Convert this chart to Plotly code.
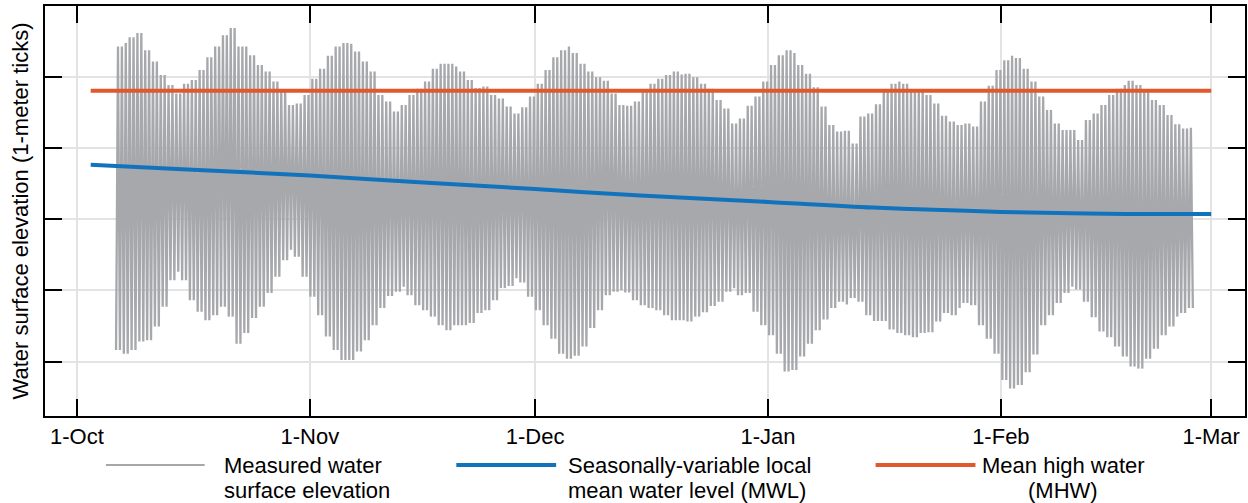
import pandas as pd
import plotly.graph_objects as go

# ---------------- data (metres) ----------------
first_day = "2022-10-06"          # first calendar day of the tidal record
record_start = "2022-10-06 05:00"
record_end = "2023-02-26 14:00"
tide_half_period_hours = 6.21     # high -> low spacing of a semidiurnal tide

# envelope of daily high waters (m), Oct 6 .. Feb 26
high_water = [
    2.42, 2.47, 2.55, 2.61, 2.37, 2.21, 2.02, 1.88, 1.76, 1.90,
    1.95, 2.09, 2.27, 2.42, 2.58, 2.68, 2.42, 2.42, 2.30, 2.16,
    2.07, 1.93, 1.79, 1.60, 1.62, 1.74, 1.97, 2.11, 2.29, 2.42,
    2.47, 2.46, 2.35, 2.21, 2.07, 1.74, 1.65, 1.51, 1.60, 1.74,
    1.83, 1.93, 2.11, 2.18, 2.18, 2.14, 2.07, 1.95, 1.84, 1.86,
    1.74, 1.69, 1.58, 1.48, 1.57, 1.72, 1.90, 2.09, 2.27, 2.37,
    2.42, 2.33, 2.18, 2.07, 1.99, 1.94, 1.76, 1.60, 1.59, 1.65,
    1.79, 1.90, 1.97, 2.02, 2.07, 2.03, 2.04, 1.99, 1.90, 1.83,
    1.67, 1.55, 1.34, 1.41, 1.59, 1.72, 1.93, 2.16, 2.30, 2.37,
    2.33, 2.16, 2.04, 1.85, 1.58, 1.32, 1.23, 1.24, 1.06, 1.44,
    1.48, 1.61, 1.79, 1.90, 1.93, 1.90, 1.82, 1.82, 1.74, 1.62,
    1.45, 1.37, 1.32, 1.34, 1.30, 1.65, 1.87, 2.09, 2.23, 2.29,
    2.26, 2.11, 1.93, 1.72, 1.53, 1.34, 1.25, 1.25, 1.11, 1.39,
    1.48, 1.60, 1.74, 1.83, 1.88, 1.94, 1.88, 1.79, 1.67, 1.60,
    1.46, 1.33, 1.27, 1.28,
]
# envelope of daily low waters (m), Oct 6 .. Feb 26
low_water = [
    -1.84, -1.89, -1.84, -1.72, -1.70, -1.51, -1.23, -0.86, -0.74, -0.86,
    -1.14, -1.30, -1.42, -1.35, -1.23, -1.37, -1.75, -1.60, -1.39, -1.23,
    -1.04, -0.81, -0.58, -0.43, -0.53, -0.81, -1.09, -1.35, -1.65, -1.84,
    -1.98, -1.98, -1.86, -1.70, -1.49, -1.25, -1.08, -1.02, -0.95, -1.07,
    -1.21, -1.28, -1.37, -1.49, -1.56, -1.49, -1.49, -1.46, -1.32, -1.28,
    -1.14, -0.97, -0.94, -0.83, -0.89, -1.09, -1.28, -1.49, -1.68, -1.89,
    -1.96, -1.92, -1.79, -1.53, -1.28, -1.07, -1.02, -1.00, -1.03, -1.14,
    -1.21, -1.25, -1.28, -1.35, -1.42, -1.42, -1.44, -1.37, -1.31, -1.22,
    -1.16, -1.02, -0.97, -1.07, -1.04, -1.30, -1.49, -1.63, -1.89, -2.14,
    -2.12, -1.93, -1.75, -1.56, -1.41, -1.25, -1.16, -1.20, -1.11, -1.16,
    -1.35, -1.43, -1.43, -1.55, -1.60, -1.63, -1.66, -1.60, -1.59, -1.44,
    -1.32, -1.35, -1.25, -1.18, -1.21, -1.49, -1.68, -1.89, -2.26, -2.38,
    -2.33, -2.15, -1.90, -1.49, -1.35, -1.18, -1.04, -0.95, -0.99, -1.16,
    -1.38, -1.58, -1.66, -1.79, -1.93, -2.07, -2.10, -1.96, -1.82, -1.63,
    -1.51, -1.37, -1.32, -1.25,
]

# seasonally-variable local mean water level (m)
mwl_dates = ["2022-10-02 20:00", "2022-10-15 00:00", "2022-11-01 00:00",
             "2022-11-15 00:00", "2022-12-01 00:00", "2022-12-15 00:00",
             "2023-01-01 00:00", "2023-01-15 00:00", "2023-02-01 00:00",
             "2023-02-15 00:00", "2023-03-01 00:00"]
mwl_values = [0.76, 0.70, 0.61, 0.52, 0.42, 0.33, 0.24, 0.16, 0.10, 0.075, 0.07]

# mean high water (m)
mhw_dates = ["2022-10-02 20:00", "2023-03-01 00:00"]
mhw_value = 1.80

tick_dates = ["2022-10-01", "2022-11-01", "2022-12-01", "2023-01-01",
              "2023-02-01", "2023-03-01"]
tick_labels = ["1-Oct", "1-Nov", "1-Dec", "1-Jan", "1-Feb", "1-Mar"]
y_ticks = [-2, -1, 0, 1, 2]

legend_names = [["Measured water", "surface elevation"],
                ["Seasonally-variable local", "mean water level (MWL)"],
                ["Mean high water", "(MHW)"]]

# ---------------- build the tide record from the daily extremes ----------------
day0 = pd.Timestamp(first_day)
t = pd.Timestamp(record_start)
t_end = pd.Timestamp(record_end)
step = pd.Timedelta(hours=tide_half_period_hours)
tide_x, tide_y = [], []
k = 1
while t <= t_end:
    idx = (t.normalize() - day0).days
    tide_x.append(t)
    tide_y.append(high_water[idx] if k % 2 == 0 else low_water[idx])
    t += step
    k += 1

GRAY = "#a7a8ac"
BLUE = "#1273bd"
ORANGE = "#e0582b"
FONT = "Arial, Liberation Sans, sans-serif"
FS = 22

fig = go.Figure()
fig.add_trace(go.Scatter(x=tide_x, y=tide_y, mode="lines",
                         line=dict(color=GRAY, width=2.3), showlegend=False,
                         hoverinfo="skip"))
fig.add_trace(go.Scatter(x=[pd.Timestamp(d) for d in mwl_dates], y=mwl_values, mode="lines",
                         line=dict(color=BLUE, width=4, shape="spline", smoothing=1.0),
                         showlegend=False))
fig.add_trace(go.Scatter(x=[pd.Timestamp(d) for d in mhw_dates],
                         y=[mhw_value] * len(mhw_dates),
                         mode="lines", line=dict(color=ORANGE, width=4),
                         showlegend=False))

# ---------------- manual legend (long line samples) ----------------
W, H = 1248, 503
ml, mr, mt, mb = 45, 1, 6, 87
pw, ph = W - ml - mr, H - mt - mb
def px(x):
    return (x - ml) / pw
def py(y):
    return (H - mb - y) / ph

shapes = []
annotations = []
samples = [(106, 205, GRAY, 2), (457, 557, BLUE, 4), (877, 977, ORANGE, 4)]
text_left = [222, 567, None]
for i, (x0, x1, c, w) in enumerate(samples):
    shapes.append(dict(type="line", xref="paper", yref="paper",
                       x0=px(x0), x1=px(x1), y0=py(465), y1=py(465),
                       line=dict(color=c, width=w)))
    for j, line in enumerate(legend_names[i]):
        yy = py(465 + 25 * j)
        if text_left[i] is not None:
            annotations.append(dict(text=line, xref="paper", yref="paper",
                                    x=px(text_left[i]), y=yy, xanchor="left",
                                    yanchor="middle", showarrow=False,
                                    font=dict(size=FS, color="black", family=FONT)))
        else:
            annotations.append(dict(text=line, xref="paper", yref="paper",
                                    x=px(1065), y=yy, xanchor="center",
                                    yanchor="middle", showarrow=False,
                                    font=dict(size=FS, color="black", family=FONT)))

fig.update_layout(
    width=W, height=H,
    margin=dict(l=ml, r=mr, t=mt, b=mb),
    paper_bgcolor="white", plot_bgcolor="white",
    font=dict(family=FONT, size=FS, color="black"),
    shapes=shapes, annotations=annotations,
    showlegend=False,
)
fig.update_xaxes(
    type="date",
    range=["2022-09-26 18:00", "2023-03-05 12:00"],
    tickvals=[pd.Timestamp(d) for d in tick_dates], ticktext=tick_labels,
    ticks="inside", ticklen=17, tickwidth=2, tickcolor="black",
    showline=True, linewidth=2, linecolor="black", mirror="ticks",
    showgrid=True, gridcolor="#e3e3e3", gridwidth=2,
    tickfont=dict(size=FS, color="black", family=FONT),
    zeroline=False,
)
fig.update_yaxes(
    range=[-2.765, 2.99],
    tickvals=y_ticks, showticklabels=False,
    ticks="inside", ticklen=17, tickwidth=2, tickcolor="black",
    showline=True, linewidth=2, linecolor="black", mirror="ticks",
    showgrid=True, gridcolor="#e3e3e3", gridwidth=2,
    zeroline=False,
    title=dict(text="Water surface elevation (1-meter ticks)", standoff=8,
               font=dict(size=FS, color="black", family=FONT)),
)

fig.write_html("out.html", config={"displayModeBar": False},
               post_script="document.body.style.margin='0';"
                           "document.body.style.overflow='hidden';")
